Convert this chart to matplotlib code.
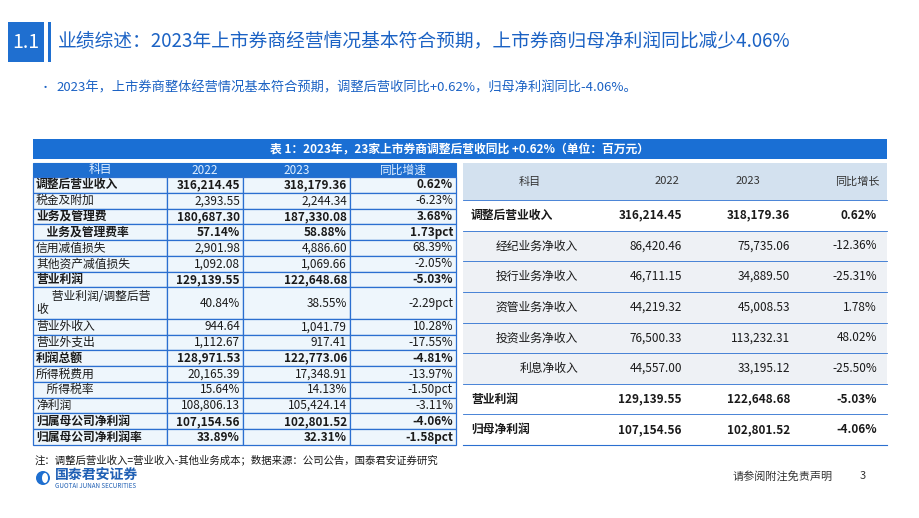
import matplotlib
matplotlib.use("Agg")
import matplotlib.pyplot as plt
from matplotlib.patches import Rectangle, Ellipse

plt.rcParams['font.family'] = ['Noto Sans CJK SC', 'DejaVu Sans']

# ---------------- data ----------------
left_header = ["科目", "2022", "2023", "同比增速"]
left_items = ["调整后营业收入", "税金及附加", "业务及管理费", "业务及管理费率", "信用减值损失",
              "其他资产减值损失", "营业利润", "营业利润/调整后营\n收", "营业外收入", "营业外支出",
              "利润总额", "所得税费用", "所得税率", "净利润", "归属母公司净利润", "归属母公司净利润率"]
left_2022 = ["316,214.45", "2,393.55", "180,687.30", "57.14%", "2,901.98", "1,092.08", "129,139.55",
             "40.84%", "944.64", "1,112.67", "128,971.53", "20,165.39", "15.64%", "108,806.13",
             "107,154.56", "33.89%"]
left_2023 = ["318,179.36", "2,244.34", "187,330.08", "58.88%", "4,886.60", "1,069.66", "122,648.68",
             "38.55%", "1,041.79", "917.41", "122,773.06", "17,348.91", "14.13%", "105,424.14",
             "102,801.52", "32.31%"]
left_yoy = ["0.62%", "-6.23%", "3.68%", "1.73pct", "68.39%", "-2.05%", "-5.03%", "-2.29pct",
            "10.28%", "-17.55%", "-4.81%", "-13.97%", "-1.50pct", "-3.11%", "-4.06%", "-1.58pct"]
left_bold = [1, 0, 1, 1, 0, 0, 1, 0, 0, 0, 1, 0, 0, 0, 1, 1]
left_indent = [0, 0, 0, 1, 0, 0, 0, 1, 0, 0, 0, 0, 1, 0, 0, 0]
left_rowh = [1, 1, 1, 1, 1, 1, 1, 2, 1, 1, 1, 1, 1, 1, 1, 1]

right_header = ["科目", "2022", "2023", "同比增长"]
right_items = ["调整后营业收入", "经纪业务净收入", "投行业务净收入", "资管业务净收入",
               "投资业务净收入", "利息净收入", "营业利润", "归母净利润"]
right_2022 = ["316,214.45", "86,420.46", "46,711.15", "44,219.32", "76,500.33", "44,557.00",
              "129,139.55", "107,154.56"]
right_2023 = ["318,179.36", "75,735.06", "34,889.50", "45,008.53", "113,232.31", "33,195.12",
              "122,648.68", "102,801.52"]
right_yoy = ["0.62%", "-12.36%", "-25.31%", "1.78%", "48.02%", "-25.50%", "-5.03%", "-4.06%"]
right_bold = [1, 0, 0, 0, 0, 0, 1, 1]

title = "业绩综述：2023年上市券商经营情况基本符合预期，上市券商归母净利润同比减少4.06%"
bullet = "2023年，上市券商整体经营情况基本符合预期，调整后营收同比+0.62%，归母净利润同比-4.06%。"
caption = "表 1：2023年，23家上市券商调整后营收同比 +0.62%（单位：百万元）"
note = "注：调整后营业收入=营业收入-其他业务成本；数据来源：公司公告，国泰君安证券研究"

# ---------------- drawing ----------------
W, H = 920, 518
fig = plt.figure(figsize=(9.2, 5.18), dpi=100)
ax = fig.add_axes([0, 0, 1, 1])
ax.set_xlim(0, W)
ax.set_ylim(H, 0)
ax.axis('off')

BLUE = "#1b62c4"
DARK = "#1a1a1a"

def rect(x, y, w, h, fc, ec="none", lw=0.8, z=1):
    ax.add_patch(Rectangle((x, y), w, h, facecolor=fc, edgecolor=ec, lw=lw, zorder=z))

def txt(x, y, s, size=8.5, color=DARK, ha="left", bold=False, **kw):
    ax.text(x, y, s, fontsize=size, color=color, ha=ha, va="center",
            fontweight="bold" if bold else "normal", **kw)

# header
rect(8, 22, 36, 40, "#1f6fd0")
txt(26, 42, "1.1", size=14, color="white", ha="center")
rect(48, 22, 3, 40, "#1f6fd0")
txt(58, 42, title, size=13.5, color=BLUE)
txt(40, 88, "•", size=8, color=BLUE)
txt(56, 88, bullet, size=9.5, color=BLUE)

# caption bar
rect(33, 139, 854, 20, "#1a6fd4")
txt(460, 149, caption, size=8.5, color="white", ha="center", bold=True)

# left table
lx = [33, 167, 243, 350, 456]
top = 163
hh = 14
rect(lx[0], top, lx[-1] - lx[0], hh, "#1f6fd0", ec="#1f6fd0")
for i, h in enumerate(left_header):
    txt((lx[i] + lx[i + 1]) / 2, top + hh / 2, h, size=8.5, color="#dfeeff", ha="center")
y = top + hh
unit = (445 - y) / sum(left_rowh)
for i in range(len(left_items)):
    rh = unit * left_rowh[i]
    for c in range(4):
        rect(lx[c], y, lx[c + 1] - lx[c], rh, "#eef6fc", ec="#2b6fd0", lw=0.9)
    b = bool(left_bold[i])
    lab = left_items[i]
    if left_indent[i]:
        lab = "    " + lab if "\n" not in lab else "      " + lab
    txt(lx[0] + 3, y + rh / 2, lab, size=8.5, bold=b, linespacing=1.0)
    txt(lx[2] - 3, y + rh / 2, left_2022[i], size=8.5, ha="right", bold=b)
    txt(lx[3] - 3, y + rh / 2, left_2023[i], size=8.5, ha="right", bold=b)
    txt(lx[4] - 3, y + rh / 2, left_yoy[i], size=8.5, ha="right", bold=b)
    y += rh

# right table
rx0, rx1 = 463, 887
rtop, hh2 = 163, 37
rect(rx0, rtop, rx1 - rx0, hh2, "#d3e1ef")
centers = [530, 667, 748, 857]
for c, h in zip(centers, right_header):
    txt(c, rtop + hh2 / 2, h, size=8, ha="center", color="#333333")
y = rtop + hh2
rrh = (445 - y) / len(right_items)
for i in range(len(right_items)):
    b = bool(right_bold[i])
    rect(rx0, y, rx1 - rx0, rrh, "white" if b else "#eef1f5")
    ax.plot([rx0, rx1], [y, y], color="#2b6fd0", lw=0.6, zorder=2)
    if b:
        txt(rx0 + 8, y + rrh / 2, right_items[i], size=8.5, bold=True)
    else:
        txt(578, y + rrh / 2, right_items[i], size=8.5, ha="right")
    txt(682, y + rrh / 2, right_2022[i], size=8.5, ha="right", bold=b)
    txt(790, y + rrh / 2, right_2023[i], size=8.5, ha="right", bold=b)
    txt(877, y + rrh / 2, right_yoy[i], size=8.5, ha="right", bold=b)
    y += rrh
ax.plot([rx0, rx1], [y, y], color="#2b6fd0", lw=0.8, zorder=2)

# footer
txt(35, 460, note, size=7.5, style="italic")
ax.add_patch(Ellipse((43, 478), 14, 14, facecolor="#1f6fd0", zorder=2))
ax.add_patch(Ellipse((45, 478), 6, 10, facecolor="white", zorder=3))
txt(55, 475, "国泰君安证券", size=10, color="#1f5fb4", bold=True)
txt(55, 486, "GUOTAI JUNAN SECURITIES", size=4.5, color="#1f5fb4")
txt(733, 476, "请参阅附注免责声明", size=8, color="#333333")
txt(860, 476, "3", size=8, color="#333333")

fig.savefig("out.png", dpi=100)
